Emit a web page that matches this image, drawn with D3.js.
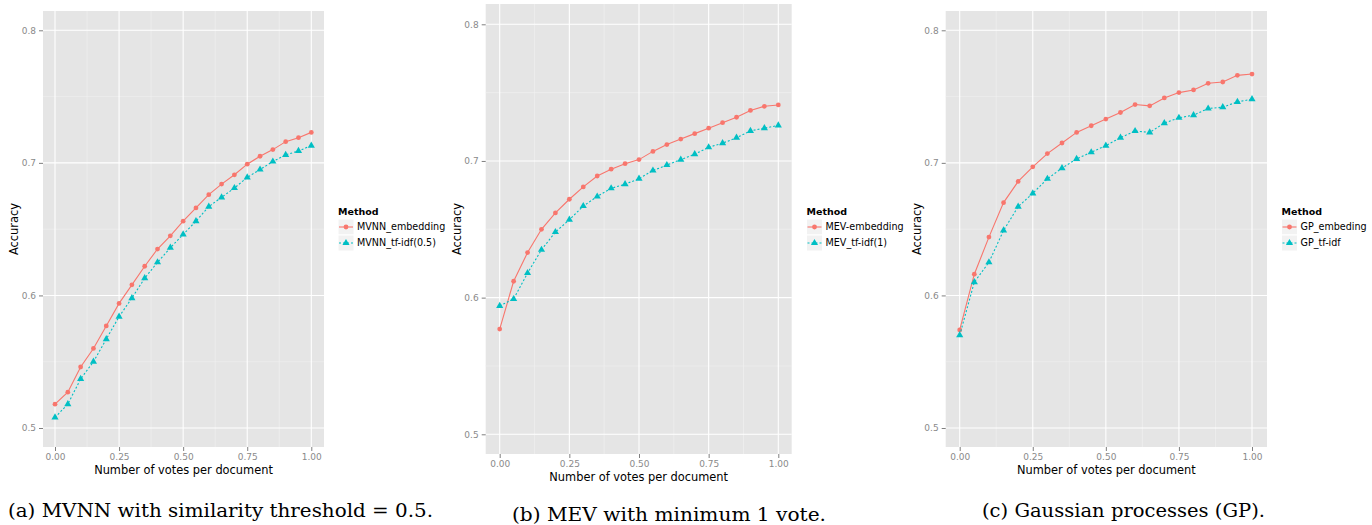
<!DOCTYPE html>
<html><head><meta charset="utf-8">
<script src="https://cdn.jsdelivr.net/npm/d3@7"></script>
<style>body{margin:0;background:#fff}svg{display:block}</style>
</head><body>
<svg id="chart" width="1372" height="525"></svg>
<script>
const votes = [0.00,0.05,0.10,0.15,0.20,0.25,0.30,0.35,0.40,0.45,0.50,0.55,0.60,0.65,0.70,0.75,0.80,0.85,0.90,0.95,1.00];
const xTicks = [0, 0.25, 0.5, 0.75, 1];
const xTickLabels = ["0.00","0.25","0.50","0.75","1.00"];
const yTicks = [0.5, 0.6, 0.7, 0.8];
const yTickLabels = ["0.5","0.6","0.7","0.8"];

const mvnnEmbedding = [0.518,0.527,0.546,0.560,0.577,0.594,0.608,0.622,0.635,0.645,0.656,0.666,0.676,0.684,0.691,0.699,0.705,0.710,0.716,0.719,0.723];
const mvnnTfidf     = [0.508,0.518,0.537,0.550,0.567,0.584,0.598,0.613,0.625,0.636,0.646,0.656,0.667,0.674,0.681,0.689,0.695,0.701,0.706,0.709,0.713];
const mevEmbedding  = [0.577,0.612,0.633,0.650,0.662,0.672,0.681,0.689,0.694,0.698,0.701,0.707,0.712,0.716,0.720,0.724,0.728,0.732,0.737,0.740,0.741];
const mevTfidf      = [0.594,0.599,0.618,0.635,0.648,0.657,0.667,0.674,0.680,0.683,0.687,0.693,0.697,0.701,0.705,0.710,0.713,0.717,0.722,0.724,0.726];
const gpEmbedding   = [0.574,0.616,0.644,0.670,0.686,0.697,0.707,0.715,0.723,0.728,0.733,0.738,0.744,0.743,0.749,0.753,0.755,0.760,0.761,0.766,0.767];
const gpTfidf       = [0.570,0.610,0.625,0.649,0.667,0.677,0.688,0.696,0.703,0.708,0.713,0.719,0.724,0.723,0.730,0.734,0.736,0.741,0.742,0.746,0.748];

const seriesNames = {
  a: ["MVNN_embedding", "MVNN_tf-idf(0.5)"],
  b: ["MEV-embedding", "MEV_tf-idf(1)"],
  c: ["GP_embeding", "GP_tf-idf"]
};
const captions = {
  a: "(a) MVNN with similarity threshold = 0.5.",
  b: "(b) MEV with minimum 1 vote.",
  c: "(c) Gaussian processes (GP)."
};
const legendTitle = "Method";
const xTitle = "Number of votes per document";
const yTitle = "Accuracy";

const panelData = {
  a: [mvnnEmbedding, mvnnTfidf],
  b: [mevEmbedding, mevTfidf],
  c: [gpEmbedding, gpTfidf]
};

// layout
const layout = [
  {id:"a", left:43, right:324, top:11, bottom:447, xr:[55,311.3], yr:[428,30.3], ytitleX:14, xtitleY:474,
   legX:338, legY:211, cap:{x:8, y:517, w:425}},
  {id:"b", left:485.7, right:791.7, top:4, bottom:454, xr:[499.7,778.3], yr:[434.3,24.3], ytitleX:457, xtitleY:481,
   legX:806.5, legY:211, cap:{x:512, y:521, w:314}},
  {id:"c", left:945.7, right:1267, top:11, bottom:447, xr:[959.7,1252], yr:[428,30.3], ytitleX:917, xtitleY:474,
   legX:1281.5, legY:211, cap:{x:982, y:517, w:283}}
];

const colors = ["#F8766D", "#00BFC4"];
const svg = d3.select("#chart");
const sans = "'DejaVu Sans', sans-serif";

layout.forEach(p => {
  const x = d3.scaleLinear().domain([0,1]).range(p.xr);
  const y = d3.scaleLinear().domain([0.5,0.8]).range(p.yr);
  const g = svg.append("g");
  g.append("rect").attr("x",p.left).attr("y",p.top).attr("width",p.right-p.left).attr("height",p.bottom-p.top).attr("fill","#e5e5e5");
  // minor grid
  const xMinor = [0.125,0.375,0.625,0.875];
  const yMinor = [0.55,0.65,0.75];
  g.selectAll(".xmin").data(xMinor).join("line").attr("x1",d=>x(d)).attr("x2",d=>x(d)).attr("y1",p.top).attr("y2",p.bottom).attr("stroke","#f2f2f2").attr("stroke-width",0.6);
  g.selectAll(".ymin").data(yMinor).join("line").attr("y1",d=>y(d)).attr("y2",d=>y(d)).attr("x1",p.left).attr("x2",p.right).attr("stroke","#f2f2f2").attr("stroke-width",0.6);
  g.selectAll(".xmaj").data(xTicks).join("line").attr("x1",d=>x(d)).attr("x2",d=>x(d)).attr("y1",p.top).attr("y2",p.bottom).attr("stroke","#ffffff").attr("stroke-width",1.1);
  g.selectAll(".ymaj").data(yTicks).join("line").attr("y1",d=>y(d)).attr("y2",d=>y(d)).attr("x1",p.left).attr("x2",p.right).attr("stroke","#ffffff").attr("stroke-width",1.1);

  // axes
  const xa = g.append("g").attr("transform",`translate(0,${p.bottom})`)
    .call(d3.axisBottom(x).tickValues(xTicks).tickFormat((d,i)=>xTickLabels[i]).tickSize(4).tickPadding(3));
  const ya = g.append("g").attr("transform",`translate(${p.left},0)`)
    .call(d3.axisLeft(y).tickValues(yTicks).tickFormat((d,i)=>yTickLabels[i]).tickSize(4).tickPadding(3));
  [xa,ya].forEach(a=>{
    a.select(".domain").remove();
    a.selectAll(".tick line").attr("stroke","#7f7f7f");
    a.selectAll(".tick text").attr("fill","#8a8a8a").style("font-family",sans).style("font-size","9px");
  });

  // titles
  g.append("text").attr("x",(p.left+p.right)/2).attr("y",p.xtitleY).attr("text-anchor","middle")
    .style("font-family",sans).style("font-size","11.4px").attr("fill","#000").text(xTitle);
  g.append("text").attr("transform",`translate(${p.ytitleX},${(p.top+p.bottom)/2}) rotate(-90)`).attr("text-anchor","middle")
    .attr("dy","0.35em").style("font-family",sans).style("font-size","11.4px").attr("fill","#000").text(yTitle);

  // series
  const data = panelData[p.id];
  const line = d3.line().x((d,i)=>x(votes[i])).y(d=>y(d));
  data.forEach((s,k)=>{
    g.append("path").datum(s).attr("d",line).attr("fill","none").attr("stroke",colors[k]).attr("stroke-width",1.1)
      .attr("stroke-dasharray", k===1 ? "2,2" : null);
    if (k===0) {
      g.selectAll(null).data(s).join("circle").attr("cx",(d,i)=>x(votes[i])).attr("cy",d=>y(d)).attr("r",2.4).attr("fill",colors[k]);
    } else {
      g.selectAll(null).data(s).join("path").attr("transform",(d,i)=>`translate(${x(votes[i])},${y(d)})`)
        .attr("d",d3.symbol(d3.symbolTriangle,22)()).attr("fill",colors[k]);
    }
  });

  // legend
  const lg = g.append("g").attr("transform",`translate(${p.legX},${p.legY})`);
  lg.append("text").attr("x",0).attr("y",4).style("font-family",sans).style("font-size","9.5px").style("font-weight","bold").text(legendTitle);
  seriesNames[p.id].forEach((nm,k)=>{
    const ky = 8 + k*16;
    lg.append("rect").attr("x",0).attr("y",ky).attr("width",16).attr("height",16).attr("fill","#f2f2f2").attr("stroke","#ffffff");
    lg.append("line").attr("x1",1).attr("x2",15).attr("y1",ky+8).attr("y2",ky+8).attr("stroke",colors[k]).attr("stroke-width",1.1)
      .attr("stroke-dasharray", k===1 ? "2,2" : null);
    if (k===0) lg.append("circle").attr("cx",8).attr("cy",ky+8).attr("r",2.4).attr("fill",colors[k]);
    else lg.append("path").attr("transform",`translate(8,${ky+8})`).attr("d",d3.symbol(d3.symbolTriangle,22)()).attr("fill",colors[k]);
    lg.append("text").attr("x",19).attr("y",ky+8).attr("dy","0.35em").style("font-family",sans).style("font-size","9.6px").text(nm);
  });

  // caption
  svg.append("text").attr("x",p.cap.x).attr("y",p.cap.y).attr("textLength",p.cap.w).attr("lengthAdjust","spacingAndGlyphs")
    .style("font-family","'DejaVu Serif', 'Liberation Serif', serif").style("font-size","19px").attr("fill","#000").text(captions[p.id]);
});
</script>
</body></html>
